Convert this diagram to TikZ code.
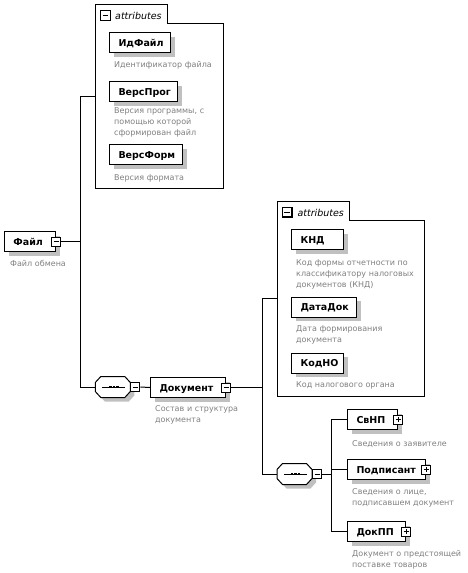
\documentclass[tikz,border=0pt]{standalone}
\usepackage{fontspec}
\setmainfont{DejaVu Sans}
\usetikzlibrary{shadows}
\definecolor{shgrey}{RGB}{192,192,192}
\definecolor{descgrey}{RGB}{128,128,128}
\tikzset{
  conn/.style={line width=1pt, draw=black},
  elem/.style={draw, fill=white, line width=1pt, rectangle, anchor=north west,
    minimum height=20pt, inner xsep=0pt, inner ysep=0pt, align=left,
    text height=7pt, text depth=0pt, font=\fontsize{9.5}{11}\selectfont\bfseries,
    execute at begin node={\hspace*{9pt}},
    drop shadow={shadow xshift=4pt, shadow yshift=-4pt, fill=shgrey, opacity=1}},
  iconbase/.style={draw, fill=white, line width=1pt, minimum size=9pt, inner sep=0pt, rectangle},
  minusicon/.style={iconbase, path picture={
    \draw[line width=1pt] ([xshift=2pt]path picture bounding box.west) -- ([xshift=-2pt]path picture bounding box.east);}},
  plusicon/.style={iconbase, path picture={
    \draw[line width=1pt] ([xshift=2pt]path picture bounding box.west) -- ([xshift=-2pt]path picture bounding box.east);
    \draw[line width=1pt] ([yshift=2pt]path picture bounding box.south) -- ([yshift=-2pt]path picture bounding box.north);}},
  desc/.style={anchor=base west, inner sep=0pt, text width=140pt, align=left,
    font=\fontsize{8}{11.3}\selectfont, text=descgrey},
  attrlbl/.style={anchor=base west, inner sep=0pt, font=\fontsize{9.5}{11}\selectfont\itshape},
  group/.style={draw, line width=1pt, fill=white},
  seqpic/.pic={
    \fill[shgrey, shift={(4,4)}] (0,-4.5) -- (5.5,-10.5) -- (29.5,-10.5) -- (35,-4.5) -- (35,4.5) -- (29.5,10.5) -- (5.5,10.5) -- (0,4.5) -- cycle;
    \draw[line width=1pt, fill=white] (0,-4.5) -- (5.5,-10.5) -- (29.5,-10.5) -- (35,-4.5) -- (35,4.5) -- (29.5,10.5) -- (5.5,10.5) -- (0,4.5) -- cycle;
    \draw[line width=1pt] (7,0) -- (30,0);
    \fill (13.8,-1.25) rectangle (16.2,1.25);
    \fill (17.3,-1.25) rectangle (19.7,1.25);
    \fill (20.8,-1.25) rectangle (23.2,1.25);
    \coordinate (-tip) at (0,0);
    \node[minusicon] (-ic) at (40,0) {};
  }
}
\begin{document}
\begin{tikzpicture}[x=1pt, y=-1pt]
\useasboundingbox (0,0) rectangle (467,573);

% ---------- attribute group 1 ----------
\draw[group] (95.7,4.3) -- (167.3,4.3) -- (167.3,23.3) -- (223.3,23.3) -- (223.3,188.3) -- (95.7,188.3) -- cycle;
\node[minusicon, minimum size=9.7pt, line width=1.3pt] (t1ic) at (105.5,15.5) {};
\node[attrlbl] (t1lbl) at (115,19) {attributes};
\coordinate (a1) at (95.7,96.7);

\node[elem, text width=61pt] (idf) at (109,32.3) {ИдФайл};
\node[desc] (idfd) at (114,67.3) {Идентификатор файла};
\node[elem, text width=68pt] (vp) at (109,81.3) {ВерсПрог};
\node[desc] (vpd) at (114,113) {Версия программы, с\\помощью которой\\сформирован файл};
\node[elem, text width=73pt] (vf) at (109,144.3) {ВерсФорм};
\node[desc] (vfd) at (114,180) {Версия формата};

% ---------- root ----------
\node[elem, text width=51pt] (file) at (4,231) {Файл};
\node[minusicon] (fileic) at (file.east) {};
\node[desc] (filed) at (10,266) {Файл обмена};

% ---------- sequence 1 and Документ ----------
\pic (sq1) at (95.3,387) {seqpic};
\node[elem, text width=75pt] (doc) at (150,377) {Документ};
\node[minusicon] (docic) at (doc.east) {};
\node[desc] (docd) at (155,411) {Состав и структура\\документа};

% ---------- attribute group 2 ----------
\draw[group] (277,201.7) -- (349.3,201.7) -- (349.3,220.7) -- (424.3,220.7) -- (424.3,396) -- (277,396) -- cycle;
\node[minusicon, minimum size=9.7pt, line width=1.3pt] (t2ic) at (287,212) {};
\node[attrlbl] (t2lbl) at (297.3,216) {attributes};
\coordinate (a2) at (277,298.3);

\node[elem, text width=52pt] (knd) at (291,229.3) {КНД};
\node[desc] (kndd) at (296,265) {Код формы отчетности по\\классификатору налоговых\\документов (КНД)};
\node[elem, text width=65pt] (dd) at (291,296.7) {ДатаДок};
\node[desc] (ddd) at (296,331) {Дата формирования\\документа};
\node[elem, text width=52pt] (kno) at (291,352.7) {КодНО};
\node[desc] (knod) at (296,387) {Код налогового органа};

% ---------- sequence 2 and children ----------
\pic (sq2) at (277,474) {seqpic};
\node[elem, text width=50pt] (svnp) at (347,409) {СвНП};
\node[plusicon] (svnpic) at (svnp.east) {};
\node[desc] (svnpd) at (352,446) {Сведения о заявителе};
\node[elem, text width=78pt] (podp) at (347,459) {Подписант};
\node[plusicon] (podpic) at (podp.east) {};
\node[desc] (podpd) at (352,494) {Сведения о лице,\\подписавшем документ};
\node[elem, text width=58pt] (dokpp) at (347,521) {ДокПП};
\node[plusicon] (dokppic) at (dokpp.east) {};
\node[desc] (dokppd) at (352,556) {Документ о предстоящей\\поставке товаров};

% ---------- connectors ----------
\coordinate (sp1) at (80.7,241);
\draw[conn] (fileic.east) -- (fileic.east -| sp1);
\draw[conn] (a1) -- (a1 -| sp1) -- (sq1-tip -| sp1) -- (sq1-tip);
\draw[conn] (sq1-ic.east) -- (doc.west);
\coordinate (sp2) at (262.7,387);
\draw[conn] (docic.east) -- (docic.east -| sp2);
\draw[conn] (a2) -- (a2 -| sp2) -- (sq2-tip -| sp2) -- (sq2-tip);
\coordinate (sp3) at (331,474);
\draw[conn] (sq2-ic.east) -- (sq2-ic.east -| sp3);
\draw[conn] (svnp.west) -- (svnp.west -| sp3) -- (dokpp.west -| sp3) -- (dokpp.west);
\draw[conn] (podp.west) -- (podp.west -| sp3);
\end{tikzpicture}
\end{document}
